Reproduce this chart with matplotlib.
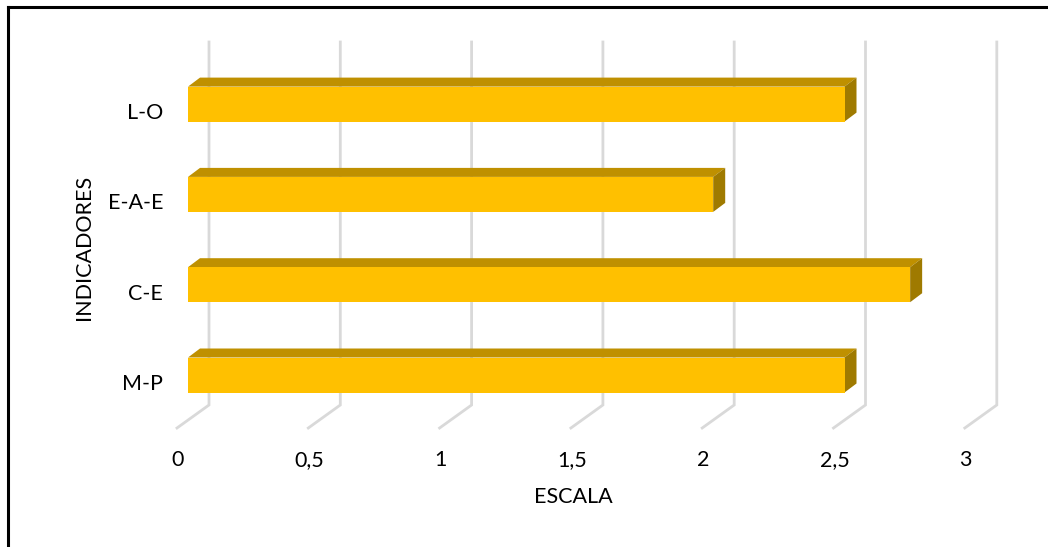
import matplotlib; matplotlib.use("Agg")
import matplotlib.pyplot as plt
from matplotlib.patches import Polygon

categories = ['M-P', 'C-E', 'E-A-E', 'L-O']
values = [2.5, 2.75, 2.0, 2.5]
ticks = [0, 0.5, 1, 1.5, 2, 2.5, 3]
tick_labels = ['0', '0,5', '1', '1,5', '2', '2,5', '3']

FRONT = '#FFC000'; TOP = '#BF9000'; SIDE = '#9F7A00'; GRID = '#D9D9D9'
plt.rcParams['font.family'] = ['Lato', 'DejaVu Sans']
FS = 15.5

W, H = 1048, 547
fig = plt.figure(figsize=(W/100, H/100), dpi=100)
ax = fig.add_axes([0, 0, 1, 1])
# data: x = value, y = category index; pixel mapping px = 188 + 262.6*v, py = 375 - 90.3*i
sx, sy = 262.6, 90.3
ax.set_xlim(-188/sx, (W-188)/sx)
ax.set_ylim((375-H)/sy, 375/sy)
ax.axis('off')

# oblique offsets (px -> data)
def off(dxp, dyp): return dxp/sx, -dyp/sy
bx, by = off(12, -9)        # bar depth
fx, _ = off(-11, 8)         # floor front relative to bar front plane
wx, _ = off(21, -16)        # back wall relative to bar front plane
top_i = (375-42)/sy
wall_i = (375-405)/sy
floor_i = (375-428)/sy

# gridlines: back wall verticals + floor diagonals
for t in ticks:
    ax.plot([t+wx, t+wx, t+fx], [top_i, wall_i, floor_i], color=GRID, lw=2, solid_joinstyle='miter', zorder=1)

h = 35/sy
for i, v in enumerate(values):
    y0, y1 = i-h/2, i+h/2
    ax.add_patch(Polygon([(0, y1), (v, y1), (v+bx, y1+by), (bx, y1+by)], closed=True, fc=TOP, ec='none', zorder=3))
    ax.add_patch(Polygon([(v, y0), (v, y1), (v+bx, y1+by), (v+bx, y0+by)], closed=True, fc=SIDE, ec='none', zorder=3))
    ax.add_patch(Polygon([(0, y0), (v, y0), (v, y1), (0, y1)], closed=True, fc=FRONT, ec='none', zorder=4))
    ax.text(-25/sx, i-9/sy, categories[i], ha='right', va='center', fontsize=FS)

for t, lab in zip(ticks, tick_labels):
    ax.text(t-10/sx, (375-460)/sy, lab, ha='center', va='center', fontsize=FS)

ax.text((573-188)/sx, (375-497)/sy, 'ESCALA', ha='center', va='center', fontsize=FS)
ax.text((84-188)/sx, (375-247)/sy, 'INDICADORES', ha='center', va='center', rotation=90, fontsize=FS)

# frame (top and left only, as in the reference crop)
fig.add_artist(plt.Line2D([8/W, 1], [1-7/H, 1-7/H], color='black', lw=2.2, transform=fig.transFigure))
fig.add_artist(plt.Line2D([8/W, 8/W], [0, 1-7/H], color='black', lw=2.2, transform=fig.transFigure))

fig.savefig('out.png', dpi=100)
